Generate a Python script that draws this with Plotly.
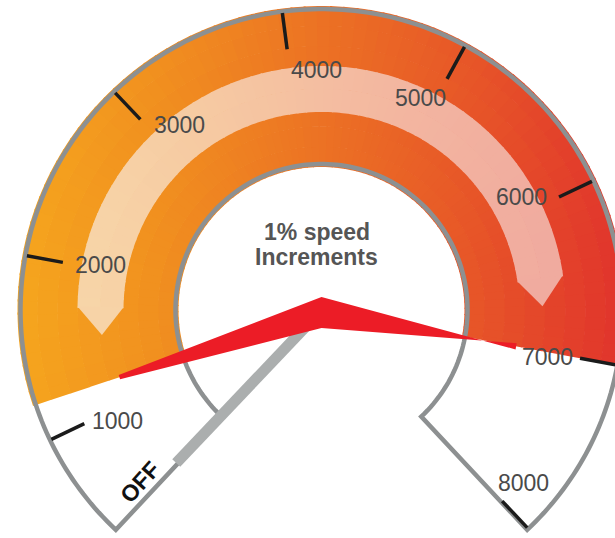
import numpy as np
import plotly.graph_objects as go

# ---- dial data (rpm) ----
tick_rpm = [1000, 2000, 3000, 4000, 5000, 6000, 7000, 8000]
tick_labels = ["1000", "2000", "3000", "4000", "5000", "6000", "7000", "8000"]
band_rpm = [1200, 7000]          # coloured operating band
inner_band_rpm = [1530, 6680]    # pale arrow band (tip to tip)
red_needle_rpm = [1200, 7000]    # min / max speed pointers
off_needle_rpm = 420             # grey pointer resting at OFF
center_text = ["1% speed", "Increments"]
off_text = "OFF"

# ---- geometry / styling ----
W, H = 615, 538
CX, CY = 321.5, 310.0
R_OUT, R_IN = 301, 146
TH_1000, DEG_PER_K = -25.6, 36.03       # angle of 1000 rpm, degrees per 1000 rpm
EDGE_DEG = (-46.9, 226.9)               # dial opening edges
PALE_R = (198, 244)
ARROW_DEPTH = 7.0
# label placement relative to each tick: (angle offset deg, radius)
label_place = [(-3.0, 232), (1.1, 226), (6.1, 233), (6.2, 240),
               (-3.6, 234), (-4.0, 230), (1.1, 231), (-6.0, 266)]
FONT = "Liberation Sans, Arial, Helvetica, sans-serif"

band_stops = [(0, (246, 168, 30)), (150, (241, 145, 31)), (320, (236, 114, 36)),
              (470, (231, 86, 40)), (615, (225, 54, 44))]
pale_stops = [(0, (248, 221, 172)), (200, (246, 202, 162)),
              (400, (243, 182, 160)), (615, (239, 166, 158))]


def ang(v):
    return TH_1000 + DEG_PER_K * (v - 1000) / 1000.0


def pt(th, r):
    t = np.radians(th)
    return CX - r * np.cos(t), CY - r * np.sin(t)


def to_path(points, close=True):
    s = "M " + " L ".join(f"{x:.2f},{y:.2f}" for x, y in points)
    return s + (" Z" if close else "")


def arc(th0, th1, r, n):
    return [pt(t, r) for t in np.linspace(th0, th1, n)]


def color_at(x, stops):
    xs = [s[0] for s in stops]
    out = []
    for i in range(3):
        out.append(int(round(np.interp(x, xs, [s[1][i] for s in stops]))))
    return f"rgb({out[0]},{out[1]},{out[2]})"


shapes = []


def fill_shape(points, color):
    shapes.append(dict(type="path", path=to_path(points), xref="x", yref="y",
                       fillcolor=color, line=dict(width=0), layer="above"))


def cell_grid(th0, th1, radii, step, stops):
    """Annular cells coloured by their horizontal position (left-to-right gradient)."""
    edges = np.arange(th0, th1, step).tolist() + [th1]
    for r0, r1 in zip(radii[:-1], radii[1:]):
        r1o = r1 + 0.6 if r1 != radii[-1] else r1
        for a, b in zip(edges[:-1], edges[1:]):
            b2 = min(b + 0.4, th1)
            pts = arc(a, b2, r1o, 3) + arc(b2, a, r0, 3)
            xm = pt((a + b) / 2, (r0 + r1) / 2)[0]
            fill_shape(pts, color_at(xm, stops))


# coloured band
th_a, th_b = ang(band_rpm[0]), ang(band_rpm[1])
cell_grid(th_a, th_b, np.linspace(R_IN - 3, R_OUT + 3, 9).tolist(), 2.5, band_stops)

# pale inner band with pointed ends
p_lo, p_hi = ang(inner_band_rpm[0]), ang(inner_band_rpm[1])
s_lo, s_hi = p_lo + ARROW_DEPTH, p_hi - ARROW_DEPTH
cell_grid(s_lo, s_hi, np.linspace(PALE_R[0], PALE_R[1], 3).tolist(), 2.5, pale_stops)
r_mid = sum(PALE_R) / 2
for s, tip in [(s_lo + 0.3, p_lo), (s_hi - 0.3, p_hi)]:
    pts = [pt(s, PALE_R[0]), pt(s, PALE_R[1]), pt(tip, r_mid)]
    fill_shape(pts, color_at(pt(tip, r_mid)[0], pale_stops))

# dial outline
outline = arc(EDGE_DEG[0], EDGE_DEG[1], R_OUT, 240) + arc(EDGE_DEG[1], EDGE_DEG[0], R_IN, 160)
shapes.append(dict(type="path", path=to_path(outline), xref="x", yref="y",
                   fillcolor="rgba(0,0,0,0)", line=dict(color="#8d9091", width=4.5),
                   layer="above"))

# tick marks
for v in tick_rpm:
    x0, y0 = pt(ang(v), 263)
    x1, y1 = pt(ang(v), R_OUT - 1.5)
    shapes.append(dict(type="line", x0=x0, y0=y0, x1=x1, y1=y1, xref="x", yref="y",
                       line=dict(color="#1b1b1b", width=3.5), layer="above"))

# grey OFF pointer
th_g = ang(off_needle_rpm)
t = np.radians(th_g)
px, py = np.sin(t), -np.cos(t)      # unit normal to the pointer direction
hw = 5.5
g0 = pt(th_g, 2)
g1 = pt(th_g, 211)
grey = [(g0[0] + px * hw, g0[1] + py * hw), (g1[0] + px * hw, g1[1] + py * hw),
        (g1[0] - px * hw, g1[1] - py * hw), (g0[0] - px * hw, g0[1] - py * hw)]
fill_shape(grey, "#abaeae")

# red min/max pointer
th_lo, th_hi = ang(red_needle_rpm[0]), ang(red_needle_rpm[1])
red = [pt(th_lo + 0.6, 213), pt(90, 13), pt(th_hi + 0.9, 198),
       pt(th_hi - 0.9, 198), pt(270, 18), pt(th_lo - 0.6, 213)]
fill_shape(red, "#ec1c26")

# ---- text ----
annotations = []
for v, lab, (dth, r) in zip(tick_rpm, tick_labels, label_place):
    x, y = pt(ang(v) + dth, r)
    annotations.append(dict(x=x, y=y, xref="x", yref="y", text=lab, showarrow=False,
                            xanchor="center", yanchor="middle",
                            font=dict(family=FONT, size=23, color="#4a4a4a")))

ox, oy = pt(-43.5, 250)
annotations.append(dict(x=ox, y=oy, xref="x", yref="y", text=f"<b>{off_text}</b>",
                        showarrow=False, textangle=-48, xanchor="center", yanchor="middle",
                        font=dict(family=FONT, size=23, color="#111111")))

for txt, dx, dy in zip(center_text, [-4.5, -5.0], [-78, -53]):
    annotations.append(dict(x=CX + dx, y=CY + dy, xref="x", yref="y", text=f"<b>{txt}</b>",
                            showarrow=False, xanchor="center", yanchor="middle",
                            font=dict(family=FONT, size=23, color="#555555")))

fig = go.Figure()
fig.add_trace(go.Scatter(x=[0, W], y=[0, H], mode="markers",
                         marker=dict(opacity=0), hoverinfo="skip", showlegend=False))
fig.update_layout(
    width=W, height=H,
    margin=dict(l=0, r=0, t=0, b=0),
    paper_bgcolor="white", plot_bgcolor="white",
    xaxis=dict(range=[0, W], visible=False, fixedrange=True),
    yaxis=dict(range=[H, 0], visible=False, fixedrange=True),
    shapes=shapes, annotations=annotations, showlegend=False,
)
fig.write_html("out.html")
